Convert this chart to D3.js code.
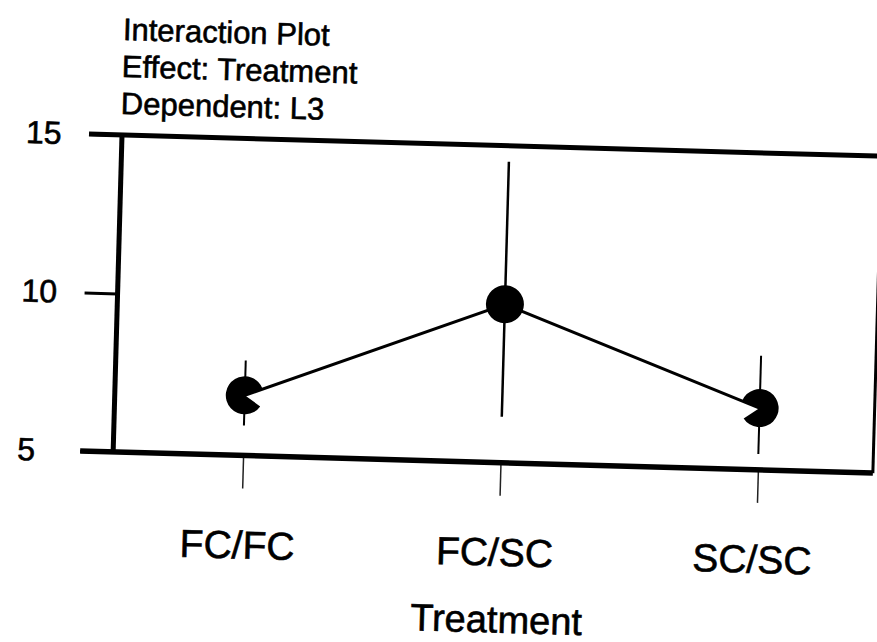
<!DOCTYPE html>
<html>
<head>
<meta charset="utf-8">
<script src="https://d3js.org/d3.v7.min.js"></script>
<style>
  body { margin: 0; background: #fff; }
  svg { display: block; font-family: "Liberation Sans", Arial, sans-serif; }
  svg text { stroke: #000; stroke-width: 0.6px; }
</style>
</head>
<body>
<div id="chart"></div>
<script>
// data
var treatments = ["FC/FC", "FC/SC", "SC/SC"];
var means      = [6.9, 10.0, 6.95];
var lower      = [5.95, 6.45, 5.5];
var upper      = [8.0, 14.5, 8.6];
var yTicks     = [5, 10, 15];
var titleLines = ["Interaction Plot", "Effect: Treatment", "Dependent: L3"];

var width = 877, height = 642;
var plotLeft = 122, plotTop = 135, plotRight = 882, plotBottom = 452;

var svg = d3.select("#chart").append("svg")
    .attr("width", width)
    .attr("height", height);

// the scanned page sits a little crooked
var g = svg.append("g")
    .attr("transform", "rotate(1.6," + plotLeft + "," + plotTop + ")");

var x = d3.scalePoint()
    .domain(treatments)
    .range([plotLeft + 130, plotLeft + 645]);

var y = d3.scaleLinear()
    .domain([5, 15])
    .range([plotBottom, plotTop]);

// titles
g.selectAll("text.title")
  .data(titleLines)
  .enter()
  .append("text")
  .attr("class", "title")
  .attr("x", 120)
  .attr("y", function(d, i) { return 40 + i * 37; })
  .attr("font-size", "31px")
  .text(function(d) { return d; });

// y axis ticks + labels
var yAxis = g.append("g")
    .attr("transform", "translate(" + plotLeft + ",0)")
    .call(d3.axisLeft(y).tickValues(yTicks).tickSize(33).tickFormat(d3.format("d")));
yAxis.select(".domain").remove();
yAxis.selectAll("line").attr("stroke", "#000").attr("stroke-width", 3);
yAxis.selectAll("text")
    .attr("x", -96)
    .attr("text-anchor", "start")
    .attr("fill", "#000")
    .attr("font-size", "32px")
    .attr("font-family", "Liberation Sans, Arial, sans-serif");

// x axis ticks + labels
var xAxis = g.append("g")
    .attr("transform", "translate(0," + plotBottom + ")")
    .call(d3.axisBottom(x).tickSize(33));
xAxis.select(".domain").remove();
xAxis.selectAll("line").attr("stroke", "#222").attr("stroke-width", 1.5);
xAxis.selectAll("text")
    .attr("y", 103)
    .attr("dy", 0)
    .attr("dx", -4)
    .attr("fill", "#000")
    .attr("font-size", "39px")
    .attr("font-family", "Liberation Sans, Arial, sans-serif");

g.append("text")
  .attr("x", x("FC/SC"))
  .attr("y", 622)
  .attr("text-anchor", "middle")
  .attr("font-size", "38px")
  .text("Treatment");

// frame
g.append("line")
  .attr("x1", plotLeft - 33).attr("x2", plotRight)
  .attr("y1", y(15)).attr("y2", y(15))
  .attr("stroke", "#000").attr("stroke-width", 5);
g.append("line")
  .attr("x1", plotLeft - 33).attr("x2", plotRight)
  .attr("y1", y(5)).attr("y2", y(5))
  .attr("stroke", "#000").attr("stroke-width", 5.5);
g.append("line")
  .attr("x1", plotLeft).attr("x2", plotLeft)
  .attr("y1", y(15)).attr("y2", y(5))
  .attr("stroke", "#000").attr("stroke-width", 5);
g.append("line")
  .attr("x1", plotRight).attr("x2", plotRight)
  .attr("y1", y(15)).attr("y2", y(5))
  .attr("stroke", "#000").attr("stroke-width", 3);

// error bars
g.selectAll("line.err")
  .data(treatments)
  .enter()
  .append("line")
  .attr("class", "err")
  .attr("x1", function(d) { return x(d); })
  .attr("x2", function(d) { return x(d); })
  .attr("y1", function(d, i) { return y(lower[i]); })
  .attr("y2", function(d, i) { return y(upper[i]); })
  .attr("stroke", "#000")
  .attr("stroke-width", function(d, i) { return i == 1 ? 2.5 : 2; });

// mean line
var line = d3.line()
    .x(function(d, i) { return x(treatments[i]); })
    .y(function(d) { return y(d); });

g.append("path")
  .datum(means)
  .attr("d", line)
  .attr("fill", "none")
  .attr("stroke", "#000")
  .attr("stroke-width", 3);

// markers; the end ones have a little wedge missing next to the line
var r = 19;
function dirAngle(i, j) {
  var dx = x(treatments[j]) - x(treatments[i]);
  var dy = y(means[j]) - y(means[i]);
  return Math.atan2(dx, -dy);
}
var notch = 55 * Math.PI / 180;
var arc = d3.arc().innerRadius(0).outerRadius(r);

g.selectAll("path.marker")
  .data(means)
  .enter()
  .append("path")
  .attr("class", "marker")
  .attr("transform", function(d, i) {
    return "translate(" + x(treatments[i]) + "," + y(d) + ")";
  })
  .attr("d", function(d, i) {
    if (i == 0) {
      var a = dirAngle(0, 1);
      return arc({startAngle: a + notch, endAngle: a + 2 * Math.PI});
    }
    if (i == means.length - 1) {
      var b = dirAngle(i, i - 1);
      return arc({startAngle: b, endAngle: b + 2 * Math.PI - notch});
    }
    return arc({startAngle: 0, endAngle: 2 * Math.PI});
  })
  .attr("fill", "#000");
</script>
</body>
</html>
